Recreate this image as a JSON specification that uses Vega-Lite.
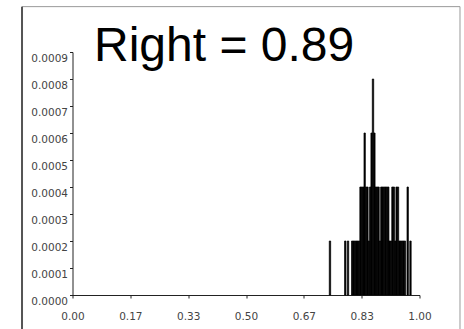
{
  "$schema": "https://vega.github.io/schema/vega-lite/v6.json",
  "width": 347,
  "height": 243,
  "autosize": {"type": "none"},
  "padding": {"left": 72.5, "top": 52, "right": 44.5, "bottom": 34},
  "background": "white",
  "config": {
    "view": {"stroke": null},
    "axisX": {"grid": false, "domainColor": "#222222", "tickColor": "#222222", "tickSize": 3, "labelPadding": 13, "labelFlush": false, "labelOverlap": false, "labelFont": "DejaVu Sans", "labelFontSize": 10.5, "labelColor": "#444444", "title": null},
    "axisY": {"grid": false, "domainColor": "#222222", "tickColor": "#222222", "tickSize": 3, "labelPadding": 2, "labelBaseline": "top", "labelOffset": 1, "labelFlush": false, "labelOverlap": false, "labelFont": "DejaVu Sans", "labelFontSize": 10.5, "labelColor": "#444444", "title": null}
  },
  "layer": [
    {
      "data": {
        "values": [
          {"x0": 0.740, "x1": 0.744, "d": 0.0002},
          {"x0": 0.784, "x1": 0.788, "d": 0.0002},
          {"x0": 0.792, "x1": 0.796, "d": 0.0002},
          {"x0": 0.804, "x1": 0.808, "d": 0.0002},
          {"x0": 0.808, "x1": 0.812, "d": 0.0002},
          {"x0": 0.812, "x1": 0.816, "d": 0.0002},
          {"x0": 0.816, "x1": 0.820, "d": 0.0002},
          {"x0": 0.820, "x1": 0.824, "d": 0.0002},
          {"x0": 0.824, "x1": 0.828, "d": 0.0002},
          {"x0": 0.828, "x1": 0.832, "d": 0.0004},
          {"x0": 0.832, "x1": 0.836, "d": 0.0004},
          {"x0": 0.836, "x1": 0.840, "d": 0.0004},
          {"x0": 0.840, "x1": 0.844, "d": 0.0006},
          {"x0": 0.844, "x1": 0.848, "d": 0.0004},
          {"x0": 0.848, "x1": 0.852, "d": 0.0004},
          {"x0": 0.852, "x1": 0.856, "d": 0.0002},
          {"x0": 0.856, "x1": 0.860, "d": 0.0004},
          {"x0": 0.860, "x1": 0.864, "d": 0.0006},
          {"x0": 0.864, "x1": 0.868, "d": 0.0008},
          {"x0": 0.868, "x1": 0.872, "d": 0.0006},
          {"x0": 0.872, "x1": 0.876, "d": 0.0004},
          {"x0": 0.876, "x1": 0.880, "d": 0.0004},
          {"x0": 0.880, "x1": 0.884, "d": 0.0004},
          {"x0": 0.884, "x1": 0.888, "d": 0.0002},
          {"x0": 0.888, "x1": 0.892, "d": 0.0004},
          {"x0": 0.892, "x1": 0.896, "d": 0.0004},
          {"x0": 0.896, "x1": 0.900, "d": 0.0004},
          {"x0": 0.900, "x1": 0.904, "d": 0.0004},
          {"x0": 0.904, "x1": 0.908, "d": 0.0004},
          {"x0": 0.908, "x1": 0.912, "d": 0.0004},
          {"x0": 0.912, "x1": 0.916, "d": 0.0002},
          {"x0": 0.916, "x1": 0.920, "d": 0.0002},
          {"x0": 0.920, "x1": 0.924, "d": 0.0004},
          {"x0": 0.924, "x1": 0.928, "d": 0.0004},
          {"x0": 0.928, "x1": 0.932, "d": 0.0002},
          {"x0": 0.932, "x1": 0.936, "d": 0.0004},
          {"x0": 0.936, "x1": 0.940, "d": 0.0004},
          {"x0": 0.940, "x1": 0.944, "d": 0.0002},
          {"x0": 0.944, "x1": 0.948, "d": 0.0002},
          {"x0": 0.948, "x1": 0.952, "d": 0.0002},
          {"x0": 0.952, "x1": 0.956, "d": 0.0002},
          {"x0": 0.956, "x1": 0.960, "d": 0.0002},
          {"x0": 0.964, "x1": 0.968, "d": 0.0004},
          {"x0": 0.972, "x1": 0.976, "d": 0.0002}
        ]
      },
      "mark": {"type": "rect", "color": "black", "stroke": "black", "strokeWidth": 0.7},
      "encoding": {
        "x": {
          "field": "x0", "type": "quantitative",
          "scale": {"domain": [0, 1], "nice": false, "zero": false},
          "axis": {"values": [0, 0.16667, 0.33333, 0.5, 0.66667, 0.83333, 1], "format": ".2f"}
        },
        "x2": {"field": "x1"},
        "y": {
          "field": "d", "type": "quantitative",
          "scale": {"domain": [0, 0.0009], "nice": false},
          "axis": {"values": [0, 0.0001, 0.0002, 0.0003, 0.0004, 0.0005, 0.0006, 0.0007, 0.0008, 0.0009], "format": ".4f"}
        },
        "y2": {"datum": 0}
      }
    },
    {
      "data": {"values": [{"label": "Right = 0.89"}]},
      "mark": {"type": "text", "font": "Liberation Sans", "fontSize": 48, "align": "left", "baseline": "alphabetic", "color": "black"},
      "encoding": {
        "x": {"datum": 0.062, "type": "quantitative", "axis": {"values": [0, 0.16667, 0.33333, 0.5, 0.66667, 0.83333, 1], "format": ".2f"}},
        "y": {"datum": 0.000865, "type": "quantitative", "axis": {"values": [0, 0.0001, 0.0002, 0.0003, 0.0004, 0.0005, 0.0006, 0.0007, 0.0008, 0.0009], "format": ".4f"}},
        "text": {"field": "label"}
      }
    },
    {
      "data": {"values": [{"a": 1}]},
      "mark": {"type": "rect", "fill": null, "stroke": "#9a9a9a", "strokeWidth": 1},
      "encoding": {
        "x": {"datum": -0.1455, "type": "quantitative", "axis": {"values": [0, 0.16667, 0.33333, 0.5, 0.66667, 0.83333, 1], "format": ".2f"}},
        "x2": {"datum": 1.1167},
        "y": {"datum": 0.001068, "type": "quantitative", "axis": {"values": [0, 0.0001, 0.0002, 0.0003, 0.0004, 0.0005, 0.0006, 0.0007, 0.0008, 0.0009], "format": ".4f"}},
        "y2": {"datum": -0.00016}
      }
    },
    {
      "data": {"values": [{"a": 1}]},
      "mark": {"type": "rule", "stroke": "#555555", "strokeWidth": 2},
      "encoding": {
        "x": {"datum": -0.1455, "type": "quantitative", "axis": {"values": [0, 0.16667, 0.33333, 0.5, 0.66667, 0.83333, 1], "format": ".2f"}},
        "y": {"datum": 0.001068, "type": "quantitative", "axis": {"values": [0, 0.0001, 0.0002, 0.0003, 0.0004, 0.0005, 0.0006, 0.0007, 0.0008, 0.0009], "format": ".4f"}},
        "y2": {"datum": -0.00016}
      }
    }
  ]
}
